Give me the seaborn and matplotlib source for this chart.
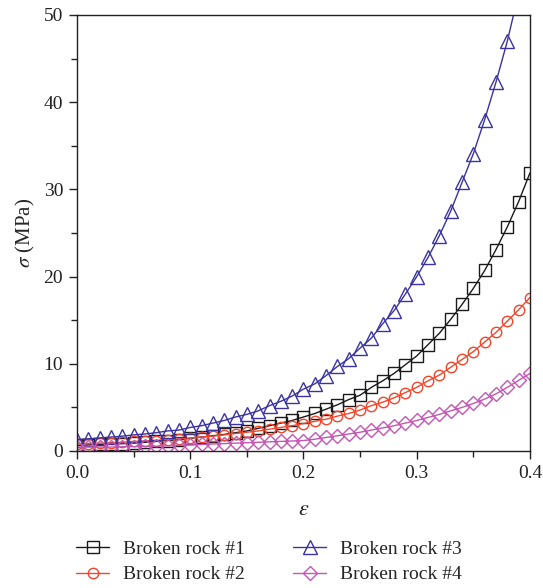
import numpy as np
import pandas as pd
import matplotlib
matplotlib.use("Agg")
import matplotlib.pyplot as plt
import seaborn as sns

# ---- data ----
strain = [round(0.01 * i, 2) for i in range(41)]

rock1 = [0.65, 0.7, 0.75, 0.8, 0.85, 0.9, 1.0, 1.1, 1.2, 1.3, 1.45,
         1.6, 1.75, 1.9, 2.1, 2.3, 2.6, 2.9, 3.2, 3.5, 3.9,
         4.3, 4.8, 5.3, 5.9, 6.4, 7.3, 8.05, 8.9, 9.9, 10.9,
         12.2, 13.5, 15.1, 16.8, 18.65, 20.7, 23.1, 25.7, 28.6, 31.9]
rock2 = [0.8, 0.85, 0.9, 0.95, 1.0, 1.1, 1.15, 1.2, 1.3, 1.4, 1.5,
         1.6, 1.7, 1.85, 2.0, 2.15, 2.3, 2.5, 2.7, 2.9, 3.15,
         3.4, 3.65, 4.0, 4.3, 4.7, 5.2, 5.6, 6.1, 6.7, 7.3,
         8.05, 8.7, 9.6, 10.5, 11.4, 12.5, 13.6, 14.9, 16.2, 17.6]
rock3 = [1.3, 1.4, 1.5, 1.6, 1.7, 1.85, 1.95, 2.1, 2.3, 2.4, 2.7,
         2.9, 3.2, 3.5, 3.9, 4.2, 4.6, 5.2, 5.7, 6.3, 7.1,
         7.7, 8.65, 9.7, 10.6, 11.8, 12.95, 14.6, 16.1, 18.0, 20.0,
         22.2, 24.7, 27.5, 30.8, 34.1, 38.0, 42.3, 47.0, 52.5, 58.5]
rock4 = [0.45, 0.45, 0.45, 0.45, 0.5, 0.5, 0.55, 0.55, 0.6, 0.65, 0.7,
         0.75, 0.8, 0.85, 0.9, 0.95, 1.0, 1.05, 1.1, 1.15, 1.2,
         1.35, 1.55, 1.75, 1.95, 2.15, 2.4, 2.65, 2.9, 3.2, 3.5,
         3.85, 4.2, 4.6, 5.0, 5.45, 5.95, 6.55, 7.3, 8.1, 8.9]

labels = ["Broken rock #1", "Broken rock #2", "Broken rock #3", "Broken rock #4"]
series = [rock1, rock2, rock3, rock4]
colors = ["#1a1a1a", "#f2452a", "#3a33a0", "#c456b4"]
markers = ["s", "o", "^", "D"]
msizes = [8, 7.5, 10, 7.5]

x_ticks = [0.0, 0.1, 0.2, 0.3, 0.4]
y_ticks = [0, 10, 20, 30, 40, 50]

# ---- style ----
sns.set_style("ticks")
plt.rcParams["font.family"] = ["Liberation Serif", "DejaVu Serif"]
plt.rcParams["mathtext.fontset"] = "stix"

fig = plt.figure(figsize=(5.43, 5.88), dpi=100)
ax = fig.add_axes([0.1418, 0.233, 0.8342, 0.7415])

for lab, ys, c, m, ms in zip(labels, series, colors, markers, msizes):
    df = pd.DataFrame({"strain": strain, "stress": ys})
    sns.lineplot(data=df, x="strain", y="stress", ax=ax, color=c, marker=m,
                 markersize=ms, markerfacecolor="none", markeredgecolor=c,
                 markeredgewidth=1.0, linewidth=1.0, label=lab, legend=False)

ax.set_xlim(0, 0.4)
ax.set_ylim(0, 50)
ax.set_xticks(x_ticks)
ax.set_yticks(y_ticks)
ax.set_xticklabels([f"{t:.1f}" for t in x_ticks])
ax.set_yticklabels([str(t) for t in y_ticks])
ax.set_xticks([0.05, 0.15, 0.25, 0.35], minor=True)
ax.set_yticks([5, 15, 25, 35, 45], minor=True)
ax.tick_params(which="major", direction="out", length=6, width=1.0,
               labelsize=14, colors="#222222", pad=4)
ax.tick_params(which="minor", direction="out", length=4, width=1.0, colors="#222222")
ax.tick_params(top=False, right=False)
for sp in ax.spines.values():
    sp.set_visible(True)
    sp.set_linewidth(1.0)
    sp.set_color("#222222")

ax.set_xlabel(r"$\varepsilon$", fontsize=16, labelpad=14)
ax.set_ylabel(r"$\sigma$ (MPa)", fontsize=15, labelpad=5)

handles, labs = ax.get_legend_handles_labels()
fig.legend(handles, labs,
           loc="lower center", bbox_to_anchor=(0.495, -0.022), ncol=2,
           frameon=False, fontsize=14, handlelength=1.7, columnspacing=2.5,
           labelspacing=0.4, handletextpad=0.7)

fig.savefig("out.png", dpi=100)
